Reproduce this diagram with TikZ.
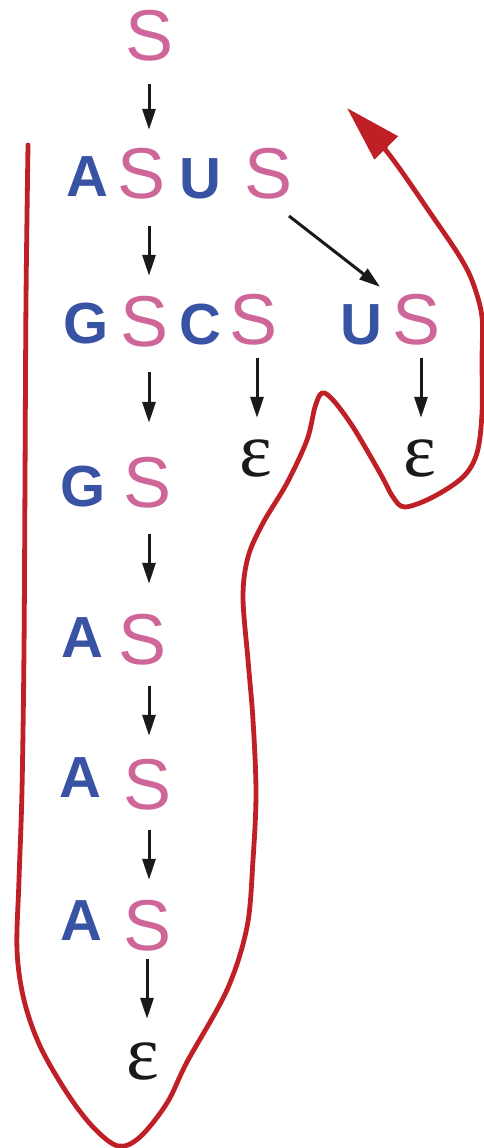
\documentclass[tikz,border=0pt]{standalone}
\usepackage{fontspec}
\setmainfont{Liberation Sans}
\newfontfamily\epsfont{Liberation Serif}
\usetikzlibrary{arrows.meta,calc}
\definecolor{spink}{HTML}{CE6699}
\definecolor{nblue}{HTML}{3953A4}
\definecolor{loopred}{HTML}{BF2026}
\definecolor{ink}{HTML}{1A1A1A}
\begin{document}
\begin{tikzpicture}[x=1pt,y=-1pt,
  sym/.style={anchor=base, inner sep=0pt, text=spink,
    font=\fontsize{72}{72}\selectfont, text height=54pt, text depth=0pt},
  nuc/.style={anchor=base, inner sep=0pt, text=nblue,
    font=\bfseries\fontsize{58}{58}\selectfont, text height=42pt, text depth=0pt},
  eps/.style={anchor=base, inner sep=0pt, text=ink,
    font=\epsfont\fontsize{78}{78}\selectfont, text height=37pt, text depth=0pt},
  arr/.style={draw=ink, line width=3pt, -{Triangle[length=21pt,width=13pt]}},
  loopline/.style={draw=loopred, line width=4.8pt, line cap=round, line join=round,
    -{Triangle[length=56pt,width=32pt]}}
]
\useasboundingbox (0,0) rectangle (483,1148);

% derivation rows
\node[sym] (s0) at (150,61) {S};

\node[nuc] (a1) at (87,196) {A};
\node[sym] (s1) at (142,198) {S};
\node[nuc] (u1) at (200,198) {U};
\node[sym] (s1b) at (269,198) {S};

\node[nuc] (g2) at (86,343) {G};
\node[sym] (s2) at (145,346) {S};
\node[nuc] (c2) at (200,344) {C};
\node[sym] (s2b) at (254,344) {S};
\node[nuc] (u2) at (361,344) {U};
\node[sym] (s2c) at (417,344) {S};

\node[eps] (e2b) at (256,476) {ε};
\node[eps] (e2c) at (420,476) {ε};

\node[nuc] (g3) at (83,506) {G};
\node[sym] (s3) at (148,507) {S};

\node[nuc] (a4) at (82,657) {A};
\node[sym] (s4) at (143,664) {S};

\node[nuc] (a5) at (80,797) {A};
\node[sym] (s5) at (148,809) {S};

\node[nuc] (a6) at (81,940) {A};
\node[sym] (s6) at (148,950) {S};

\node[eps] (e6) at (143,1079) {ε};

% columns of the rewrite arrows
\coordinate (col) at (149,0);
\coordinate (colend) at (147,0);
\coordinate (colb) at (257,0);
\coordinate (colc) at (421,0);

\draw[arr, shorten <=23pt, shorten >=14pt] (s0.south -| col) -- (s1.north -| col);
\draw[arr, shorten <=28pt, shorten >=16pt] (s1.south -| col) -- (s2.north -| col);
\draw[arr, shorten <=26pt, shorten >=30pt] (s2.south -| col) -- (s3.north -| col);
\draw[arr, shorten <=27pt, shorten >=26pt] (s3.south -| col) -- (s4.north -| col);
\draw[arr, shorten <=22pt, shorten >=19pt] (s4.south -| col) -- (s5.north -| col);
\draw[arr, shorten <=21pt, shorten >=16pt] (s5.south -| col) -- (s6.north -| col);
\draw[arr, shorten <=9pt, shorten >=23pt] (s6.south -| colend) -- (e6.north -| colend);

\draw[arr, shorten <=14pt, shorten >=21pt] (s2b.south -| colb) -- (e2b.north -| colb);
\draw[arr, shorten <=14pt, shorten >=21pt] (s2c.south -| colc) -- (e2c.north -| colc);

\draw[arr] ($(s1b.base)+(20,18)$) -- ($(u2.north)+(19,-15)$);

% red loop around the derivation
\draw[loopline] plot[smooth, tension=0.55] coordinates {
  (28,145) (26,300) (25,480) (24,650) (22,790) (19,880) (17,950)
  (24,1000) (40,1046) (67,1093) (93,1127) (118,1146) (140,1137) (167,1103)
  (187,1062) (227,990) (247,927) (253,860) (256,793) (253,720) (248,660)
  (243,597) (248,557) (263,523) (287,483) (307,440) (315,407) (322,393)
  (333,400) (353,427) (380,473) (393,497) (405,507) (433,497) (463,477)
  (477,453) (482,413) (482,360) (482,317) (473,283) (460,257) (433,217)
  (388,153) (347,108)};
\end{tikzpicture}
\end{document}
